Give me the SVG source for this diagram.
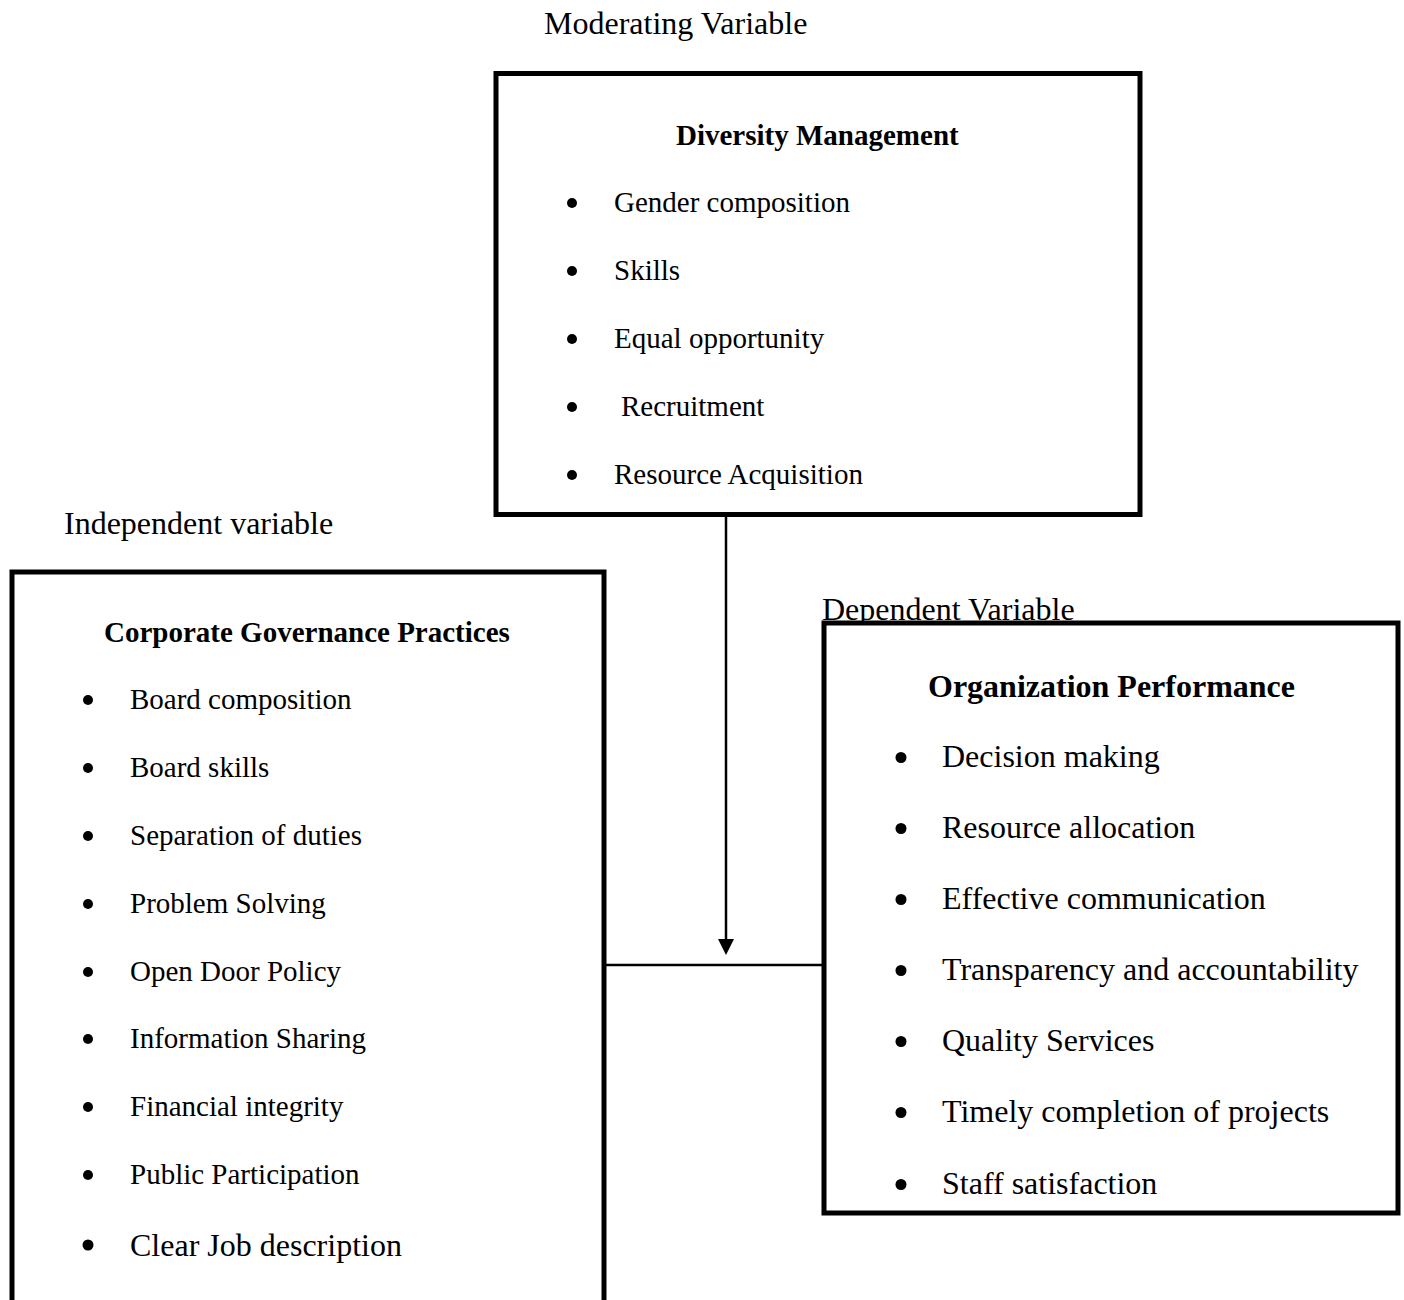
<svg xmlns="http://www.w3.org/2000/svg" width="1404" height="1300" viewBox="0 0 1404 1300">
<style>
text{font-family:"Liberation Serif","Times New Roman",serif;fill:#000}
.l{font-size:32px}
.i{font-size:29px}
.b{font-size:29px;font-weight:bold}
.bb{font-size:32px;font-weight:bold}
.box{fill:#fff;stroke:#000;stroke-width:5}
.c{stroke:#000;stroke-width:2.5;fill:none}
</style>
<rect width="1404" height="1300" fill="#fff"/>
<text class="l" x="544" y="34">Moderating Variable</text>
<text class="l" x="64" y="534">Independent variable</text>
<text class="l" x="822" y="620">Dependent Variable</text>
<g id="moderating">
<rect class="box" x="496" y="73.5" width="644" height="441"/>
<text class="b" x="676" y="145">Diversity Management</text>
<g>
<circle cx="572" cy="203" r="5"/><text class="i" x="614" y="212">Gender composition</text>
<circle cx="572" cy="271" r="5"/><text class="i" x="614" y="280">Skills</text>
<circle cx="572" cy="339" r="5"/><text class="i" x="614" y="348">Equal opportunity</text>
<circle cx="572" cy="407" r="5"/><text class="i" x="621" y="416">Recruitment</text>
<circle cx="572" cy="475" r="5"/><text class="i" x="614" y="484">Resource Acquisition</text>
</g>
</g>
<g id="independent">
<rect class="box" x="12" y="572" width="592" height="760"/>
<text class="b" x="104" y="642">Corporate Governance Practices</text>
<circle cx="88" cy="700" r="5"/><text class="i" x="130" y="709">Board composition</text>
<circle cx="88" cy="768" r="5"/><text class="i" x="130" y="777">Board skills</text>
<circle cx="88" cy="836" r="5"/><text class="i" x="130" y="845">Separation of duties</text>
<circle cx="88" cy="904" r="5"/><text class="i" x="130" y="913">Problem Solving</text>
<circle cx="88" cy="972" r="5"/><text class="i" x="130" y="981">Open Door Policy</text>
<circle cx="88" cy="1039" r="5"/><text class="i" x="130" y="1048">Information Sharing</text>
<circle cx="88" cy="1107" r="5"/><text class="i" x="130" y="1116">Financial integrity</text>
<circle cx="88" cy="1175" r="5"/><text class="i" x="130" y="1184">Public Participation</text>
<circle cx="88" cy="1245" r="5.5"/><text class="l" x="130" y="1256">Clear Job description</text>
</g>
<g id="dependent">
<rect class="box" x="824" y="623" width="574" height="590"/>
<text class="bb" x="928" y="697">Organization Performance</text>
<circle cx="901" cy="757.5" r="5.5"/><text class="l" x="942" y="767">Decision making</text>
<circle cx="901" cy="828.5" r="5.5"/><text class="l" x="942" y="838">Resource allocation</text>
<circle cx="901" cy="899.5" r="5.5"/><text class="l" x="942" y="909">Effective communication</text>
<circle cx="901" cy="970.5" r="5.5"/><text class="l" x="942" y="980">Transparency and accountability</text>
<circle cx="901" cy="1041.5" r="5.5"/><text class="l" x="942" y="1051">Quality Services</text>
<circle cx="901" cy="1112.5" r="5.5"/><text class="l" x="942" y="1122">Timely completion of projects</text>
<circle cx="901" cy="1184.5" r="5.5"/><text class="l" x="942" y="1194">Staff satisfaction</text>
</g>
<g id="connectors">
<line class="c" x1="726" y1="516" x2="726" y2="942"/>
<polygon points="718,939 734,939 726,955"/>
<line class="c" x1="606" y1="965" x2="822" y2="965"/>
</g>
</svg>
